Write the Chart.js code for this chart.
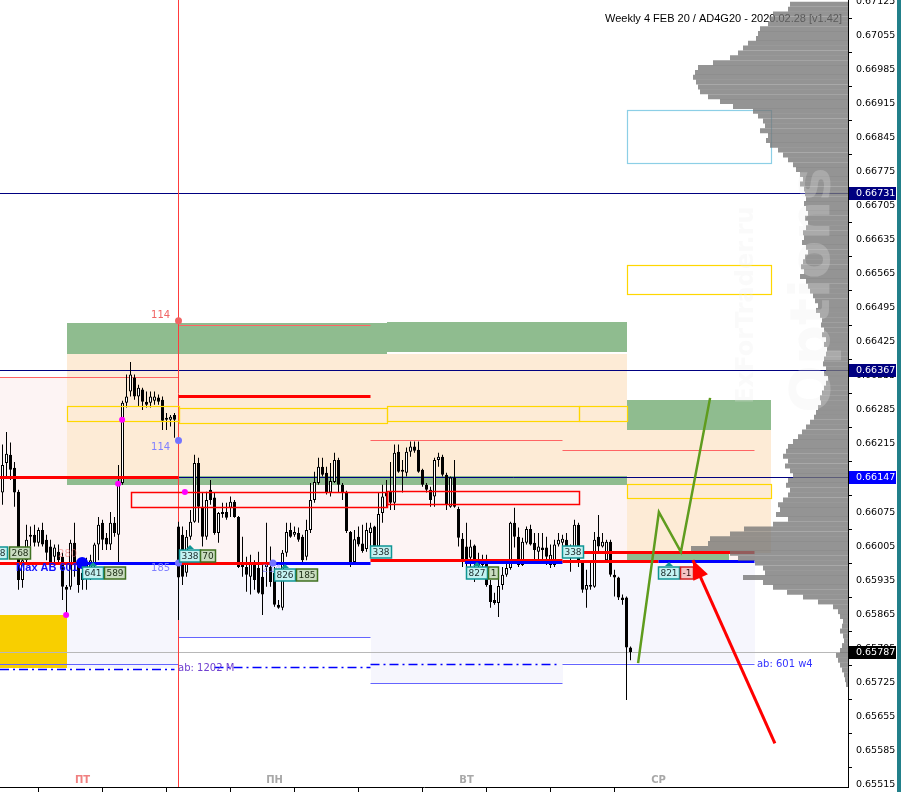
<!DOCTYPE html>
<html>
<head>
<meta charset="utf-8">
<title>AD4G20 weekly profile</title>
<script src="https://cdn.jsdelivr.net/npm/chart.js@4.4.1/dist/chart.umd.min.js"></script>
<style>
  html, body { margin: 0; padding: 0; background: #fff; overflow: hidden; }
  #wrap { position: relative; width: 901px; height: 792px; }
  #chart { position: absolute; left: 0; top: 0; }
  #edge { position: absolute; left: 897px; top: 0; width: 4px; height: 792px; background: #22808a; }
</style>
</head>
<body>
<div id="wrap">
  <canvas id="chart" width="897" height="792"></canvas>
  <div id="edge"></div>
</div>
<script>
// AD4G20 30-minute candles, Fri -> Wed, with weekly profile and levels

// --- candles (index 0 = first visible Friday bar, 44 = Monday open) ---
const opens = [0.66115,0.66176,0.66193,0.66166,0.66117,0.65935,0.65976,0.66024,0.66028,0.66012,
  0.66038,0.66018,0.66004,0.65983,0.65993,0.65983,0.65921,0.65921,0.66012,0.65970,
  0.65950,0.65940,0.65950,0.65970,0.66008,0.66053,0.66022,0.66008,0.66053,0.66028,
  0.66135,0.66300,0.66323,0.66352,0.66313,0.66327,0.66302,0.66300,0.66304,0.66311,
  0.66306,0.66265,0.66265,0.66275,0.66045,0.66028,0.65950,0.66024,0.66055,0.66176,
  0.66086,0.66024,0.66121,0.66105,0.66032,0.66071,0.66075,0.66084,0.66096,0.66065,
  0.65970,0.65962,0.65942,0.65970,0.65960,0.65942,0.65962,0.65962,0.65950,0.65884,
  0.65878,0.65991,0.66038,0.66028,0.66032,0.66024,0.65983,0.66038,0.66100,0.66135,
  0.66168,0.66156,0.66115,0.66137,0.66182,0.66131,0.66117,0.66034,0.65972,0.66024,
  0.66010,0.65999,0.66032,0.66045,0.66004,0.66073,0.66117,0.66117,0.66094,0.66199,
  0.66162,0.66156,0.66199,0.66210,0.66203,0.66162,0.66131,0.66121,0.66107,0.66182,
  0.66189,0.66152,0.66086,0.66146,0.66081,0.66020,0.66004,0.65981,0.66006,0.65976,
  0.65976,0.65970,0.65925,0.65894,0.65888,0.65925,0.65946,0.65960,0.66053,0.66024,
  0.65966,0.66012,0.66040,0.66012,0.65993,0.66002,0.66002,0.65966,0.65966,0.66008,
  0.66012,0.66018,0.66002,0.66002,0.66049,0.65970,0.65915,0.65921,0.65921,0.66024,
  0.66004,0.65976,0.66014,0.65946,0.65940,0.65899,0.65899,0.65796];
const highs = [0.66214,0.66240,0.66218,0.66178,0.66121,0.65983,0.66049,0.66045,0.66049,0.66043,
  0.66053,0.66028,0.66018,0.66008,0.66008,0.65991,0.65925,0.66018,0.66053,0.65976,
  0.65970,0.65981,0.65987,0.66012,0.66065,0.66059,0.66032,0.66075,0.66065,0.66172,
  0.66304,0.66358,0.66384,0.66358,0.66337,0.66331,0.66323,0.66323,0.66323,0.66317,
  0.66313,0.66279,0.66275,0.66279,0.66055,0.66045,0.66038,0.66079,0.66193,0.66187,
  0.66115,0.66117,0.66141,0.66115,0.66075,0.66094,0.66094,0.66107,0.66100,0.66067,
  0.66024,0.65983,0.65987,0.65976,0.65993,0.65970,0.66053,0.66004,0.65962,0.65894,
  0.65997,0.66053,0.66053,0.66045,0.66043,0.66028,0.66059,0.66135,0.66158,0.66187,
  0.66187,0.66168,0.66176,0.66197,0.66187,0.66135,0.66119,0.66036,0.66038,0.66045,
  0.66049,0.66053,0.66053,0.66047,0.66115,0.66131,0.66141,0.66178,0.66214,0.66214,
  0.66182,0.66208,0.66220,0.66220,0.66220,0.66164,0.66135,0.66127,0.66187,0.66197,
  0.66193,0.66156,0.66148,0.66182,0.66086,0.66032,0.66053,0.66018,0.66008,0.65991,
  0.65987,0.65987,0.65935,0.65909,0.65962,0.65962,0.65972,0.66055,0.66084,0.66043,
  0.66022,0.66045,0.66049,0.66032,0.66032,0.66032,0.66024,0.66008,0.66018,0.66032,
  0.66028,0.66032,0.66008,0.66059,0.66053,0.65976,0.65956,0.65970,0.66034,0.66069,
  0.66032,0.66018,0.66018,0.65956,0.65942,0.65905,0.65901,0.65798];
const lows = [0.66090,0.66148,0.66141,0.66086,0.65915,0.65919,0.65966,0.66004,0.66004,0.66004,
  0.66004,0.65976,0.65962,0.65966,0.65970,0.65894,0.65863,0.65915,0.65942,0.65909,
  0.65915,0.65915,0.65935,0.65962,0.65976,0.65997,0.65997,0.65997,0.66024,0.65972,
  0.66131,0.66290,0.66313,0.66306,0.66292,0.66285,0.66290,0.66290,0.66296,0.66296,
  0.66244,0.66244,0.66251,0.66228,0.65853,0.65925,0.65942,0.66018,0.66053,0.66053,
  0.66004,0.66018,0.66090,0.66028,0.66012,0.66063,0.66059,0.66065,0.66063,0.65960,
  0.65942,0.65911,0.65905,0.65915,0.65907,0.65863,0.65921,0.65921,0.65880,0.65876,
  0.65873,0.65983,0.66022,0.66024,0.66014,0.65970,0.65976,0.66032,0.66094,0.66131,
  0.66148,0.66111,0.66107,0.66135,0.66115,0.66100,0.66032,0.65962,0.65970,0.66004,
  0.65991,0.65993,0.65997,0.65997,0.66002,0.66053,0.66086,0.66079,0.66079,0.66156,
  0.66115,0.66148,0.66189,0.66197,0.66156,0.66127,0.66115,0.66086,0.66086,0.66168,
  0.66148,0.66079,0.66084,0.66084,0.66004,0.65962,0.65962,0.65962,0.65931,0.65950,
  0.65952,0.65921,0.65878,0.65884,0.65859,0.65915,0.65942,0.65956,0.66002,0.65962,
  0.65964,0.66008,0.66006,0.65976,0.65976,0.65976,0.65966,0.65960,0.65962,0.66004,
  0.66004,0.65983,0.65952,0.65983,0.65962,0.65909,0.65878,0.65915,0.65919,0.65993,
  0.66002,0.65972,0.65942,0.65901,0.65894,0.65884,0.65688,0.65770];
const closes = [0.66172,0.66195,0.66162,0.66115,0.65935,0.65976,0.66018,0.66028,0.66012,0.66038,
  0.66008,0.65991,0.65970,0.66002,0.65976,0.65921,0.65915,0.66012,0.65970,0.65925,
  0.65935,0.65966,0.65976,0.66008,0.66049,0.66018,0.66008,0.66053,0.66032,0.66131,
  0.66300,0.66313,0.66358,0.66313,0.66331,0.66302,0.66296,0.66313,0.66313,0.66302,
  0.66263,0.66269,0.66271,0.66265,0.65940,0.65942,0.66024,0.66055,0.66176,0.66086,
  0.66024,0.66100,0.66100,0.66032,0.66073,0.66075,0.66063,0.66096,0.66065,0.65962,
  0.65962,0.65946,0.65972,0.65935,0.65909,0.65905,0.65970,0.65931,0.65884,0.65878,
  0.65991,0.66034,0.66024,0.66034,0.66018,0.65976,0.66038,0.66100,0.66137,0.66168,
  0.66152,0.66115,0.66139,0.66182,0.66131,0.66115,0.66036,0.65972,0.66019,0.66008,
  0.65995,0.66038,0.66043,0.66002,0.66071,0.66107,0.66107,0.66094,0.66197,0.66158,
  0.66158,0.66199,0.66210,0.66201,0.66158,0.66131,0.66121,0.66100,0.66182,0.66189,
  0.66152,0.66090,0.66146,0.66086,0.66022,0.65976,0.65976,0.66004,0.65976,0.65966,
  0.65966,0.65925,0.65890,0.65888,0.65923,0.65946,0.65960,0.66053,0.66024,0.65966,
  0.66014,0.66040,0.66008,0.65997,0.66004,0.65997,0.65983,0.65987,0.66008,0.66018,
  0.66020,0.66004,0.65981,0.66049,0.65970,0.65915,0.65925,0.65925,0.66018,0.66004,
  0.66014,0.66014,0.65946,0.65940,0.65899,0.65894,0.65796,0.65787];

// --- weekly volume profile ---
const profileLevels = [0.67120,0.67110,0.67100,0.67090,0.67080,0.67070,0.67060,0.67050,0.67040,0.67030,
  0.67020,0.67010,0.67000,0.66990,0.66980,0.66970,0.66960,0.66950,0.66940,0.66930,
  0.66920,0.66910,0.66900,0.66890,0.66880,0.66870,0.66860,0.66850,0.66840,0.66830,
  0.66820,0.66810,0.66800,0.66790,0.66780,0.66770,0.66760,0.66750,0.66740,0.66730,
  0.66720,0.66710,0.66700,0.66690,0.66680,0.66670,0.66660,0.66650,0.66640,0.66630,
  0.66620,0.66610,0.66600,0.66590,0.66580,0.66570,0.66560,0.66550,0.66540,0.66530,
  0.66520,0.66510,0.66500,0.66490,0.66480,0.66470,0.66460,0.66450,0.66440,0.66430,
  0.66420,0.66410,0.66400,0.66390,0.66380,0.66370,0.66360,0.66350,0.66340,0.66330,
  0.66320,0.66310,0.66300,0.66290,0.66280,0.66270,0.66260,0.66250,0.66240,0.66230,
  0.66220,0.66210,0.66200,0.66190,0.66180,0.66170,0.66160,0.66150,0.66140,0.66130,
  0.66120,0.66110,0.66100,0.66090,0.66080,0.66070,0.66060,0.66050,0.66040,0.66030,
  0.66020,0.66010,0.66000,0.65990,0.65980,0.65970,0.65960,0.65950,0.65940,0.65930,
  0.65920,0.65910,0.65900,0.65890,0.65880,0.65870,0.65860,0.65850,0.65840,0.65830,
  0.65820,0.65810,0.65800,0.65790,0.65780,0.65770,0.65760,0.65750,0.65740,0.65730,0.65720];
const profileVolume = [58,60,75,78,80,88,90,92,100,105,
  110,118,135,150,153,155,152,150,148,140,
  128,115,95,90,85,83,88,80,82,78,
  70,65,60,55,52,48,45,48,44,43,
  42,44,42,40,43,40,42,45,44,46,
  42,40,43,45,47,44,48,42,40,38,
  35,33,30,32,28,26,27,24,26,22,
  24,21,22,24,25,22,24,20,22,24,
  26,28,27,30,32,34,38,42,46,50,
  55,60,62,65,60,63,58,55,60,62,
  58,60,65,70,68,72,60,75,104,118,
  138,140,157,118,110,93,85,83,105,85,
  75,61,45,30,15,10,8,5,6,8,
  5,4,6,8,12,10,8,6,4,3,2];

// --- axes ---
const priceTicks = [0.65515,0.65585,0.65655,0.65725,0.65795,0.65865,0.65935,0.66005,0.66075,0.66145,
  0.66215,0.66285,0.66355,0.66425,0.66495,0.66565,0.66635,0.66705,0.66775,0.66845,
  0.66915,0.66985,0.67055,0.67125];
const timeTicks = [9, 25, 41, 57, 73, 89, 105, 121, 137, 153];
const dayLabels = ['ПТ', 'ПН', 'ВТ', 'СР'];
const dayCenters = [20, 68, 116, 164];
const weekStart = 44;
const X_MIN = -0.625, X_MAX = 211.375;
const Y_MIN = 0.65509, Y_MAX = 0.67129;

// --- levels and zones: [fromBar, toBar, price(s), kind] ---
const zoneFills = [
  [X_MIN, 44, 0.66353, 0.65970, 'above'],
  [X_MIN, 44, 0.65970, 0.65754, 'below'],
  [44, 92, 0.66461, 0.65970, 'above'],
  [44, 92, 0.65970, 0.65818, 'below'],
  [92, 140, 0.66224, 0.65976, 'above'],
  [92, 140, 0.65976, 0.65723, 'below'],
  [140, 188, 0.66203, 0.65976, 'above'],
  [140, 188, 0.65976, 0.65764, 'below'],
  [16, 156, 0.66401, 0.66149, 'peach'],
  [16, 96, 0.66465, 0.66401, 'green'],
  [96, 156, 0.66467, 0.66405, 'green'],
  [16, 156, 0.66149, 0.66131, 'green'],
  [156, 192, 0.66306, 0.66244, 'green'],
  [156, 192, 0.66244, 0.65991, 'peach'],
  [156, 181.5, 0.65991, 0.65976, 'green'],
  [X_MIN, 16, 0.65863, 0.65754, 'gold']
];
const boxOutlines = [
  [16, 44, 0.66294, 0.66263, 'yellow'],
  [44, 96, 0.66290, 0.66259, 'yellow'],
  [96, 144, 0.66294, 0.66263, 'yellow'],
  [144, 156, 0.66294, 0.66263, 'yellow'],
  [156, 192, 0.66584, 0.66524, 'yellow'],
  [156, 192, 0.66133, 0.66104, 'yellow'],
  [156, 192, 0.66903, 0.66794, 'sky'],
  [32, 96, 0.66116, 0.66086, 'red'],
  [96, 144, 0.66119, 0.66092, 'red']
];
const thinLevels = [
  [X_MIN, X_MAX, 0.66731, 'navy'],
  [X_MIN, X_MAX, 0.66367, 'navy'],
  [44, X_MAX, 0.66147, 'navy'],
  [X_MIN, X_MAX, 0.65787, 'gray'],
  [44, 92, 0.66461, 'salmon'],
  [X_MIN, 44, 0.66353, 'salmon'],
  [92, 140, 0.66224, 'salmon'],
  [140, 188, 0.66203, 'salmon'],
  [X_MIN, 44, 0.65762, 'blueThin'],
  [44, 92, 0.65818, 'blueThin'],
  [92, 140, 0.65723, 'blueThin'],
  [140, 188, 0.65762, 'blueThin'],
  [X_MIN, 43, 0.65752, 'dashDot'],
  [53, 92, 0.65756, 'dashDot'],
  [92, 139.5, 0.65762, 'dashDot']
];
const thickLevels = [
  [X_MIN, 44, 0.66147, 'red'],
  [44, 92, 0.66314, 'red'],
  [X_MIN, 20, 0.65970, 'red'],
  [20, 92, 0.65970, 'blue'],
  [44, 67.6, 0.65970, 'red'],
  [92, 140, 0.65976, 'red'],
  [115.6, 140, 0.65972, 'blue'],
  [140, 188, 0.65993, 'red'],
  [140, 164, 0.65974, 'red'],
  [164, 188, 0.65974, 'blue']
];
const dots = [
  [15.9, 0.65863, 'magenta'],
  [29.9, 0.66265, 'magenta'],
  [28.9, 0.66133, 'magenta'],
  [45.6, 0.66116, 'magenta'],
  [44, 0.66469, 'salmon'],
  [44, 0.66222, 'lilac'],
  [44, 0.65970, 'lilac'],
  [67.6, 0.65970, 'lilac'],
  [19.9, 0.65970, 'blueBig']
];
const textMarks = [
  [41.9, 0.66479, '114', 'salmon', 'right'],
  [41.9, 0.66209, '114', 'lilac', 'right'],
  [41.9, 0.65958, '185', 'lilac', 'right'],
  [13.9, 0.65987, '280', 'faintRed', 'left'],
  [64.9, 0.65956, '214', 'faintBlue', 'left'],
  [3.4, 0.65960, 'Max AB 601', 'maxab', 'left'],
  [43.9, 0.65753, 'ab: 1202 M', 'abM', 'left'],
  [188.6, 0.65762, 'ab: 601 w4', 'abW', 'left']
];
const tagMarks = [
  [-4.1, 0.65991, '338', 'cyan', false],
  [1.6, 0.65991, '268', 'green', false],
  [19.9, 0.65950, '641', 'cyan', true],
  [25.4, 0.65950, '589', 'green', false],
  [44.1, 0.65985, '338', 'cyan', true],
  [49.4, 0.65985, '70', 'green', false],
  [67.9, 0.65945, '826', 'cyan', true],
  [73.4, 0.65945, '185', 'green', false],
  [91.9, 0.65993, '338', 'cyan', false],
  [115.9, 0.65950, '827', 'cyan', true],
  [121.4, 0.65950, '1', 'green', false],
  [139.9, 0.65993, '338', 'cyan', false],
  [163.9, 0.65950, '821', 'cyan', true],
  [169.4, 0.65950, '-1', 'red', false]
];
const axisMarks = [[0.66731, '#000080'], [0.66367, '#000080'], [0.66147, '#0000ff'], [0.65787, '#000000']];

// forecast path and arrow
const pathBars = [158.9, 164.1, 169.6, 176.9];
const pathPrices = [0.65764, 0.66075, 0.65993, 0.66310];
const arrowBars = [193.1, 172.6];
const arrowPrices = [0.65599, 0.65976];

const FONT = '"DejaVu Sans", Verdana, sans-serif';
const fillColors = { above: '#fdf4f4', below: '#f6f6fd', peach: '#fdebd6', green: '#8fbc8f', gold: '#f8cf00' };
const outlineColors = { yellow: '#ffd700', sky: '#8ccfe6', red: '#ff0000' };
const thinStyles = {
  navy: ['#000080', 1, []], gray: ['#b8b8b8', 1, []], salmon: ['#ff6464', 1, []],
  blueThin: ['#6464ff', 1, []], dashDot: ['#0000ff', 1.5, [9, 4, 2, 4]]
};
const thickColors = { red: '#ff0000', blue: '#0000ff' };
const dotStyles = { magenta: ['#ff00ff', 3], salmon: ['#f06464', 3.5], lilac: ['#7373ff', 3.5], blueBig: ['#0000ff', 6] };
const textStyles = {
  salmon: ['#f06464', '10px ' + FONT], lilac: ['#8080ff', '10px ' + FONT],
  faintRed: ['rgba(240,110,110,0.55)', '10px ' + FONT], faintBlue: ['rgba(120,120,255,0.6)', '10px ' + FONT],
  maxab: ['#1010ff', 'bold 11px "Liberation Sans", Arial, sans-serif'],
  abM: ['#7040d0', '10px ' + FONT], abW: ['#3333ff', '10px ' + FONT]
};
const tagStyles = {
  cyan: ['#c4f2f2', '#109595', '#203030'], green: ['#c9dcc0', '#3f7020', '#1c2c14'], red: ['#f5c4c4', '#d02020', '#301010']
};

const overlay = {
  id: 'overlay',
  beforeDatasetsDraw(chart) {
    const { ctx, chartArea: a } = chart;
    const X = v => chart.scales.x.getPixelForValue(v);
    const Y = v => chart.scales.y.getPixelForValue(v);
    ctx.save();
    ctx.beginPath();
    ctx.rect(a.left, a.top, a.right - a.left, a.bottom - a.top);
    ctx.clip();

    zoneFills.forEach(([i1, i2, top, bot, kind]) => {
      const x1 = Math.round(X(i1)), x2 = Math.round(X(i2));
      const y1 = Math.round(Y(top)), y2 = Math.round(Y(bot));
      ctx.fillStyle = fillColors[kind];
      ctx.fillRect(x1, y1, x2 - x1, y2 - y1);
    });

    // header text (profile is drawn over its right part)
    ctx.fillStyle = '#000';
    ctx.font = '11px "Liberation Sans", Arial, sans-serif';
    ctx.textAlign = 'left';
    ctx.textBaseline = 'alphabetic';
    ctx.fillText('Weekly 4 FEB 20 / AD4G20 - 2020.02.28 [v1.42]', 605, 22);

    thinLevels.forEach(([i1, i2, p, kind]) => {
      const [color, w, dash] = thinStyles[kind];
      const y = Math.round(Y(p)) + 0.5;
      ctx.strokeStyle = color;
      ctx.lineWidth = w;
      ctx.setLineDash(dash);
      ctx.beginPath();
      ctx.moveTo(X(i1), y);
      ctx.lineTo(X(i2), y);
      ctx.stroke();
    });
    ctx.setLineDash([]);

    // week start marker
    const vx = Math.floor(X(weekStart)) + 0.5;
    ctx.strokeStyle = '#ff3c3c';
    ctx.lineWidth = 1;
    ctx.beginPath();
    ctx.moveTo(vx, a.top);
    ctx.lineTo(vx, a.bottom);
    ctx.stroke();
    ctx.restore();
  },
  afterDatasetDraw(chart, args) {
    if (args.index !== 3) return;
    const { ctx, chartArea: a } = chart;
    const X = v => chart.scales.x.getPixelForValue(v);
    const Y = v => chart.scales.y.getPixelForValue(v);
    ctx.save();
    ctx.beginPath();
    ctx.rect(a.left, a.top, a.right - a.left, a.bottom - a.top);
    ctx.clip();

    boxOutlines.forEach(([i1, i2, top, bot, kind]) => {
      const x1 = Math.round(X(i1)) + 0.5, x2 = Math.round(X(i2)) + 0.5;
      const y1 = Math.round(Y(top)) + 0.5, y2 = Math.round(Y(bot)) + 0.5;
      ctx.strokeStyle = outlineColors[kind];
      ctx.lineWidth = kind === 'red' ? 1.5 : 1.2;
      ctx.strokeRect(x1, y1, x2 - x1, y2 - y1);
    });

    thickLevels.forEach(([i1, i2, p, kind]) => {
      const y = Math.round(Y(p)) + 0.5;
      ctx.strokeStyle = thickColors[kind];
      ctx.lineWidth = 3;
      ctx.beginPath();
      ctx.moveTo(X(i1), y);
      ctx.lineTo(X(i2), y);
      ctx.stroke();
    });

    dots.forEach(([i, p, kind]) => {
      const [color, r] = dotStyles[kind];
      ctx.fillStyle = color;
      ctx.beginPath();
      ctx.arc(X(i), Y(p), r, 0, Math.PI * 2);
      ctx.fill();
    });

    textMarks.forEach(([i, p, txt, kind, align]) => {
      const [color, font] = textStyles[kind];
      ctx.fillStyle = color;
      ctx.font = font;
      ctx.textAlign = align;
      ctx.textBaseline = 'middle';
      ctx.fillText(txt, X(i), Y(p));
    });

    ctx.font = '9px ' + FONT;
    ctx.textBaseline = 'middle';
    ctx.textAlign = 'center';
    tagMarks.forEach(([i, p, txt, kind, pointer]) => {
      const [bg, border, fg] = tagStyles[kind];
      const w = Math.round(ctx.measureText(txt).width) + 4;
      const x = Math.round(X(i)) + 0.5;
      const yc = Math.round(Y(p));
      ctx.fillStyle = bg;
      ctx.fillRect(x, yc - 6, w, 12);
      ctx.strokeStyle = border;
      ctx.lineWidth = 1.5;
      ctx.strokeRect(x, yc - 6, w, 12);
      ctx.fillStyle = fg;
      ctx.fillText(txt, x + w / 2, yc + 0.5);
      if (pointer) {
        ctx.fillStyle = border;
        ctx.beginPath();
        ctx.moveTo(x + w / 2 - 4, yc - 7);
        ctx.lineTo(x + w / 2 + 4, yc - 7);
        ctx.lineTo(x + w / 2, yc - 11);
        ctx.closePath();
        ctx.fill();
      }
    });
    ctx.restore();
  },
  afterDatasetsDraw(chart) {
    const { ctx, chartArea: a } = chart;
    const X = v => chart.scales.x.getPixelForValue(v);
    const Y = v => chart.scales.y.getPixelForValue(v);

    // arrow head on the red forecast arrow
    const pts = chart.getDatasetMeta(1).data;
    const p0 = pts[0], p1 = pts[1];
    const ang = Math.atan2(p1.y - p0.y, p1.x - p0.x);
    const len = 19, half = 8;
    const bx = p1.x - len * Math.cos(ang), by = p1.y - len * Math.sin(ang);
    ctx.save();
    ctx.fillStyle = '#ff0000';
    ctx.beginPath();
    ctx.moveTo(p1.x, p1.y);
    ctx.lineTo(bx - half * Math.sin(ang), by + half * Math.cos(ang));
    ctx.lineTo(bx + half * Math.sin(ang), by - half * Math.cos(ang));
    ctx.closePath();
    ctx.fill();

    // watermark over the profile
    ctx.beginPath();
    ctx.rect(a.left, a.top, a.right - a.left, a.bottom - a.top);
    ctx.clip();
    ctx.fillStyle = 'rgba(236,236,236,0.25)';
    ctx.textAlign = 'center';
    ctx.textBaseline = 'middle';
    ctx.save();
    ctx.translate(747, 305);
    ctx.rotate(-Math.PI / 2);
    ctx.font = 'bold 24px ' + FONT;
    ctx.fillText('ExForTrader.ru', 0, 0);
    ctx.restore();
    ctx.save();
    ctx.translate(814, 290);
    ctx.rotate(-Math.PI / 2);
    ctx.font = 'bold 56px ' + FONT;
    ctx.fillText('Options', 0, 0);
    ctx.restore();

    // session names
    ctx.font = 'bold 10px ' + FONT;
    ctx.textBaseline = 'alphabetic';
    dayLabels.forEach((d, k) => {
      ctx.fillStyle = k === 0 ? '#f08080' : '#a8a8a8';
      ctx.fillText(d, X(dayCenters[k]), a.bottom - 4);
    });
    ctx.restore();

    // highlighted prices on the axis
    ctx.save();
    ctx.font = '9.5px ' + FONT;
    ctx.textAlign = 'left';
    ctx.textBaseline = 'middle';
    axisMarks.forEach(([p, bg]) => {
      const yc = Math.round(Y(p));
      ctx.fillStyle = bg;
      ctx.fillRect(a.right + 1, yc - 6, 47, 13);
      ctx.fillStyle = '#fff';
      ctx.fillText(p.toFixed(5), a.right + 8, yc + 0.5);
    });
    ctx.restore();
  }
};

const bars = opens.map((o, k) => k);

new Chart(document.getElementById('chart'), {
  type: 'bar',
  data: {
    datasets: [
      {
        label: 'profile',
        type: 'bar',
        indexAxis: 'y',
        xAxisID: 'xp',
        yAxisID: 'y',
        data: profileLevels.map((p, k) => ({ x: profileVolume[k], y: p })),
        backgroundColor: 'rgba(118,118,118,0.78)',
        borderWidth: 0,
        barThickness: 5,
        grouped: false,
        inflateAmount: 0,
        order: 0
      },
      {
        label: 'arrow',
        type: 'line',
        xAxisID: 'x',
        yAxisID: 'y',
        data: arrowBars.map((b, k) => ({ x: b, y: arrowPrices[k] })),
        borderColor: '#ff0000',
        borderWidth: 3,
        pointRadius: 0,
        order: 1
      },
      {
        label: 'path',
        type: 'line',
        xAxisID: 'x',
        yAxisID: 'y',
        data: pathBars.map((b, k) => ({ x: b, y: pathPrices[k] })),
        borderColor: '#5f9c1e',
        borderWidth: 2.5,
        pointRadius: 0,
        tension: 0,
        order: 2
      },
      {
        label: 'bodies',
        type: 'bar',
        xAxisID: 'x',
        yAxisID: 'y',
        data: bars.map(k => ({ x: k, y: [opens[k], closes[k]] })),
        backgroundColor: bars.map(k => closes[k] >= opens[k] ? '#ffffff' : '#000000'),
        borderColor: '#000000',
        borderWidth: 1,
        borderSkipped: false,
        barThickness: 3,
        minBarLength: 1,
        grouped: false,
        inflateAmount: 0,
        order: 3
      },
      {
        label: 'wicks',
        type: 'bar',
        xAxisID: 'x',
        yAxisID: 'y',
        data: bars.map(k => ({ x: k, y: [lows[k], highs[k]] })),
        backgroundColor: '#000000',
        borderWidth: 0,
        barThickness: 1,
        grouped: false,
        inflateAmount: 0,
        order: 4
      }
    ]
  },
  options: {
    responsive: false,
    animation: false,
    devicePixelRatio: 1,
    layout: { padding: 0 },
    plugins: { legend: { display: false }, tooltip: { enabled: false }, title: { display: false } },
    scales: {
      x: {
        type: 'linear',
        position: 'bottom',
        min: X_MIN,
        max: X_MAX,
        offset: false,
        afterBuildTicks: s => { s.ticks = timeTicks.map(v => ({ value: v })); },
        afterFit: s => { s.height = 5; s.paddingLeft = 0; s.paddingRight = 0; },
        ticks: { display: false },
        grid: { offset: false, drawOnChartArea: false, drawTicks: true, tickLength: 5, color: '#000' },
        border: { display: true, color: '#000' }
      },
      xp: {
        type: 'linear',
        display: false,
        reverse: true,
        min: 0,
        max: 848,
        offset: false
      },
      y: {
        type: 'linear',
        position: 'right',
        min: Y_MIN,
        max: Y_MAX,
        offset: false,
        beginAtZero: false,
        afterBuildTicks: s => { s.ticks = priceTicks.map(v => ({ value: v })); },
        afterFit: s => { s.width = 49; s.paddingTop = 0; s.paddingBottom = 0; },
        ticks: {
          autoSkip: false,
          padding: 4,
          color: '#000',
          font: { family: FONT, size: 9.5 },
          callback: v => Number(v).toFixed(5)
        },
        grid: { drawOnChartArea: false, tickLength: 4, color: '#000' },
        border: { display: true, color: '#000' }
      }
    }
  },
  plugins: [overlay]
});
</script>
</body>
</html>
